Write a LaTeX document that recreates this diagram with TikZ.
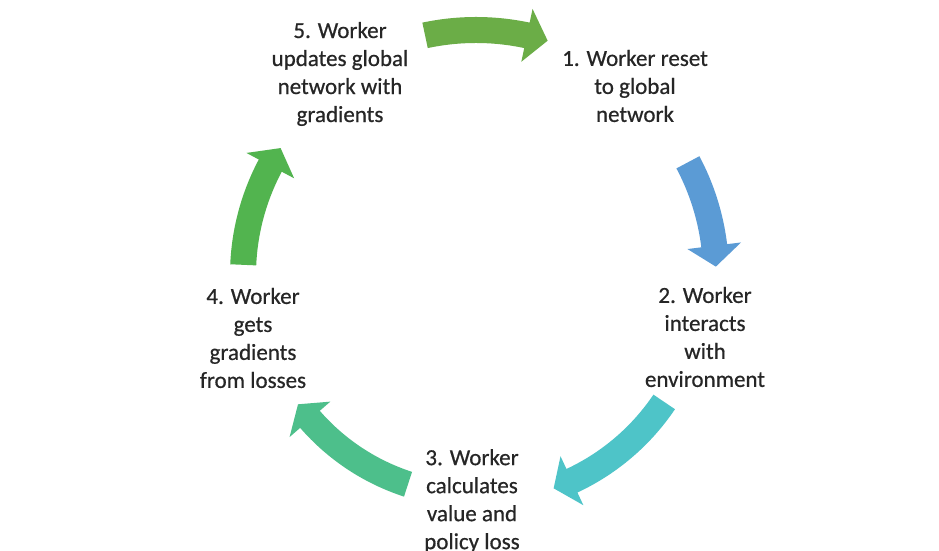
\documentclass[tikz,border=0pt]{standalone}
\usepackage{fontspec}
\setmainfont{Carlito}
\usepackage{tikz}
\definecolor{cycGreen}{HTML}{6BAD47}
\definecolor{cycBlue}{HTML}{5B9BD5}
\definecolor{cycTeal}{HTML}{4EC4C8}
\definecolor{cycSea}{HTML}{4DBF8B}
\definecolor{cycLeaf}{HTML}{52B44F}
\definecolor{cycText}{HTML}{262626}

\tikzset{steptext/.style={align=center, text=cycText, inner sep=0pt,
  font=\fontsize{23}{28}\selectfont\addfontfeature{FakeBold=0.6}}}

% curved block arrow: colour, tail angle, tip angle, radius (clockwise)
\newcommand{\cyclearrow}[4]{%
  \fill[#1] (#2:#4+13) arc[start angle=#2, end angle=#3+5, radius=#4+13]
    -- (#3+5:#4+27) -- (#3:#4) -- (#3+5:#4-27) -- (#3+5:#4-13)
    arc[start angle=#3+5, end angle=#2, radius=#4-13] -- cycle;}

\begin{document}
\begin{tikzpicture}[x=1pt,y=1pt]
  \fill[white] (0,0) rectangle (939,551);
  \useasboundingbox (0,0) rectangle (939,551);

  % Arrows round the cycle
  \begin{scope}[shift={(476,276)}]
    \cyclearrow{cycGreen}{102}{73}{245}
    \cyclearrow{cycBlue}{28}{2}{240}
    \cyclearrow{cycTeal}{-34}{-70}{227}
    \cyclearrow{cycSea}{-108}{-144}{220}
    \cyclearrow{cycLeaf}{177.5}{147}{233}
  \end{scope}

  % Step texts
  \node[steptext] (reset) at (635,465) {1. Worker reset\\to global\\network};
  \node[steptext] (interact) at (705,214) {2. Worker\\interacts\\with\\environment};
  \node[steptext] (calc) at (472,50) {3. Worker\\calculates\\value and\\policy loss};
  \node[steptext] (grads) at (253,213) {4. Worker\\gets\\gradients\\from losses};
  \node[steptext] (update) at (340,477) {5. Worker\\updates global\\network with\\gradients};
\end{tikzpicture}
\end{document}
